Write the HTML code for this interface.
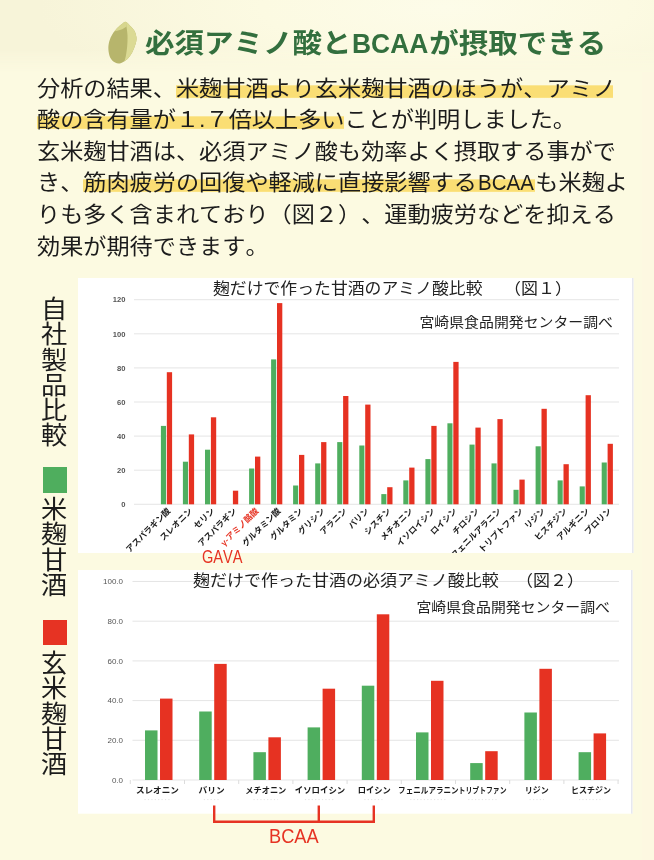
<!DOCTYPE html>
<html lang="ja">
<head>
<meta charset="utf-8">
<title>必須アミノ酸とBCAAが摂取できる</title>
<style>
html,body{margin:0;padding:0;}
body{text-spacing-trim:space-all;font-kerning:none;width:654px;height:860px;overflow:hidden;background:#fcfae1;font-family:"Liberation Sans", "Noto Sans CJK JP", sans-serif;color:#222;position:relative;}
.abs{position:absolute;white-space:nowrap;}
h1{position:absolute;margin:0;left:145px;top:21.6px;font-size:29.5px;line-height:44px;height:44px;transform:scaleY(0.93);transform-origin:50% 50%;font-weight:bold;color:#336f3e;white-space:nowrap;letter-spacing:0;}
p.l{position:absolute;margin:0;left:37px;font-size:23.17px;line-height:32px;height:32px;white-space:nowrap;color:#1c1c1c;transform:scaleY(0.93);transform-origin:50% 50%;}
.lat{display:inline-block;transform:scaleX(0.885);transform-origin:0 50%;margin-right:-6.2px;margin-left:1.5px;}
h1 .lat{transform:scaleX(0.895);margin-right:-7.6px;margin-left:0;}
.dot{margin:0;}
.hl.hl1{background-size:calc(100% - 3px) 100%;background-repeat:no-repeat;}
.hl{display:inline-block;height:32px;line-height:32px;vertical-align:top;background:linear-gradient(to bottom, rgba(250,222,116,0) 0, rgba(250,222,116,0) 35.5%, #fade74 39.5%, #fade74 78%, rgba(250,222,116,0) 82%);}
.chart{position:absolute;display:block;font-family:"Liberation Sans", "Noto Sans CJK JP", sans-serif;}
.v{position:absolute;writing-mode:vertical-rl;font-size:25.2px;line-height:30px;width:30px;left:36.9px;color:#1c1c1c;white-space:nowrap;transform:scaleX(1.04);transform-origin:50% 50%;}
.sq{position:absolute;left:42.5px;width:24px;height:25.5px;}
.red{color:#e63323;}
.topband{position:absolute;left:0;top:0;width:654px;height:72px;background:radial-gradient(ellipse 62% 150% at 68% 10%, #fdfce9 0%, #fcfae2 45%, #f7f4d9 100%);-webkit-mask-image:linear-gradient(to bottom,#000 0,#000 70%,rgba(0,0,0,0) 100%);mask-image:linear-gradient(to bottom,#000 0,#000 70%,rgba(0,0,0,0) 100%);}
.rstrip{position:absolute;left:642px;top:72px;width:12px;height:788px;background:#fdf8e1;}
</style>
</head>
<body>
<div class="topband"></div><div class="rstrip"></div>
<svg width="0" height="0" style="position:absolute"><defs><filter id="blur" x="-5%" y="-5%" width="110%" height="110%"><feGaussianBlur stdDeviation="0.42"/></filter><filter id="blur2" x="-10%" y="-10%" width="120%" height="120%"><feGaussianBlur stdDeviation="0.5"/></filter></defs></svg>
<svg class="abs" style="left:104px;top:18px" width="38" height="48" viewBox="104 18 38 48">
<defs><clipPath id="grain"><path d="M125.8 21.9 C127.2 22.2 128.9 24.5 130.3 26.0 C131.7 27.5 133.4 28.9 134.4 30.8 C135.4 32.8 136.3 35.4 136.5 37.7 C136.7 40.0 136.1 42.2 135.4 44.6 C134.7 47.0 133.6 49.8 132.3 52.2 C131.0 54.6 129.4 57.2 127.5 59.0 C125.5 60.8 122.7 62.6 120.6 63.2 C118.5 63.8 116.8 63.4 115.1 62.5 C113.4 61.6 111.4 59.9 110.3 57.7 C109.2 55.5 108.6 52.1 108.4 49.4 C108.2 46.6 108.6 43.7 109.3 41.2 C110.0 38.7 111.1 36.5 112.4 34.3 C113.7 32.1 115.6 29.8 117.2 28.1 C118.8 26.4 120.6 24.9 122.0 23.9 C123.4 22.9 124.4 21.5 125.8 21.9 Z"/></clipPath></defs>
<g filter="url(#blur2)">
<path d="M125.8 21.9 C127.2 22.2 128.9 24.5 130.3 26.0 C131.7 27.5 133.4 28.9 134.4 30.8 C135.4 32.8 136.3 35.4 136.5 37.7 C136.7 40.0 136.1 42.2 135.4 44.6 C134.7 47.0 133.6 49.8 132.3 52.2 C131.0 54.6 129.4 57.2 127.5 59.0 C125.5 60.8 122.7 62.6 120.6 63.2 C118.5 63.8 116.8 63.4 115.1 62.5 C113.4 61.6 111.4 59.9 110.3 57.7 C109.2 55.5 108.6 52.1 108.4 49.4 C108.2 46.6 108.6 43.7 109.3 41.2 C110.0 38.7 111.1 36.5 112.4 34.3 C113.7 32.1 115.6 29.8 117.2 28.1 C118.8 26.4 120.6 24.9 122.0 23.9 C123.4 22.9 124.4 21.5 125.8 21.9 Z" fill="#b7b56c"/>
<g clip-path="url(#grain)">
<path d="M126.5 26.7 C126.7 28.2 127.4 32.4 127.5 35.6 C127.6 38.8 127.5 42.5 127.2 46.0 C126.9 49.5 126.3 53.7 125.8 56.3 C125.3 58.9 124.4 60.9 124.1 61.8 L124 66 L141 66 L141 18 L126.5 18 Z" fill="#dbda94"/>
<path d="M114.8 31.2 C115.8 31.0 118.6 30.6 120.6 29.8 C122.5 29.1 125.5 27.2 126.5 26.7 L128 18 L108 18 L108 31.2 Z" fill="#d7d68e"/>
</g>
</g>
</svg>
<h1>必須アミノ酸と<span class="lat">BCAA</span>が摂取できる</h1>
<p class="l" style="top:72.6px">分析の結果、<span class="hl hl1">米麹甘酒より玄米麹甘酒のほうが、アミノ</span></p>
<p class="l" style="top:103.6px"><span class="hl">酸の含有量が１<span class="dot">.</span>７倍以上多い</span>ことが判明しました。</p>
<p class="l" style="top:136.1px">玄米麹甘酒は、必須アミノ酸も効率よく摂取する事がで</p>
<p class="l" style="top:166.9px">き、<span class="hl">筋肉疲労の回復や軽減に直接影響する<span class="lat">BCAA</span></span>も米麹よ</p>
<p class="l" style="top:199.2px">りも多く含まれており（図２）、運動疲労などを抑える</p>
<p class="l" style="top:231.1px">効果が期待できます。</p>
<div class="v" style="top:295.6px">自社製品比較</div>
<div class="sq" style="top:467px;background:#4fae5e"></div>
<div class="v" style="top:496.3px">米麹甘酒</div>
<div class="sq" style="top:620px;background:#e63323;height:24.5px"></div>
<div class="v" style="top:649.5px">玄米麹甘酒</div>
<svg class="chart" style="left:78px;top:278px" width="555.5" height="275" viewBox="78 278 555.5 275">
<rect x="78" y="278" width="555.5" height="275" fill="#fff"/>
<rect x="632.0" y="278" width="1.5" height="275" fill="#e6e8f0"/>
<g filter="url(#blur)">
<line x1="134" x2="619" y1="504.3" y2="504.3" stroke="#dedede" stroke-width="0.8"/>
<text x="125.5" y="507.0" font-size="7.6" text-anchor="end" fill="#555" font-weight="bold">0</text>
<line x1="134" x2="619" y1="470.2" y2="470.2" stroke="#dedede" stroke-width="0.8"/>
<text x="125.5" y="472.9" font-size="7.6" text-anchor="end" fill="#555" font-weight="bold">20</text>
<line x1="134" x2="619" y1="436.1" y2="436.1" stroke="#dedede" stroke-width="0.8"/>
<text x="125.5" y="438.8" font-size="7.6" text-anchor="end" fill="#555" font-weight="bold">40</text>
<line x1="134" x2="619" y1="402.0" y2="402.0" stroke="#dedede" stroke-width="0.8"/>
<text x="125.5" y="404.7" font-size="7.6" text-anchor="end" fill="#555" font-weight="bold">60</text>
<line x1="134" x2="619" y1="367.9" y2="367.9" stroke="#dedede" stroke-width="0.8"/>
<text x="125.5" y="370.6" font-size="7.6" text-anchor="end" fill="#555" font-weight="bold">80</text>
<line x1="134" x2="619" y1="333.8" y2="333.8" stroke="#dedede" stroke-width="0.8"/>
<text x="125.5" y="336.5" font-size="7.6" text-anchor="end" fill="#555" font-weight="bold">100</text>
<line x1="134" x2="619" y1="299.7" y2="299.7" stroke="#dedede" stroke-width="0.8"/>
<text x="125.5" y="302.4" font-size="7.6" text-anchor="end" fill="#555" font-weight="bold">120</text>
<rect x="160.9" y="425.9" width="5.1" height="78.4" fill="#4fae5e"/>
<rect x="166.8" y="372.2" width="5.3" height="132.1" fill="#e63323"/>
<text transform="translate(171.0,511.5) rotate(-45)" font-size="8.4" font-weight="bold" text-anchor="end" fill="#1a1a1a">アスパラギン酸</text>
<rect x="182.9" y="461.7" width="5.1" height="42.6" fill="#4fae5e"/>
<rect x="188.8" y="434.4" width="5.3" height="69.9" fill="#e63323"/>
<text transform="translate(193.0,511.5) rotate(-45)" font-size="8.4" font-weight="bold" text-anchor="end" fill="#1a1a1a">スレオニン</text>
<rect x="205.0" y="449.7" width="5.1" height="54.6" fill="#4fae5e"/>
<rect x="210.9" y="417.3" width="5.3" height="87.0" fill="#e63323"/>
<text transform="translate(215.1,511.5) rotate(-45)" font-size="8.4" font-weight="bold" text-anchor="end" fill="#1a1a1a">セリン</text>
<rect x="232.9" y="490.7" width="5.3" height="13.6" fill="#e63323"/>
<text transform="translate(237.1,511.5) rotate(-45)" font-size="8.4" font-weight="bold" text-anchor="end" fill="#1a1a1a">アスパラギン</text>
<rect x="249.1" y="468.5" width="5.1" height="35.8" fill="#4fae5e"/>
<rect x="255.0" y="456.6" width="5.3" height="47.7" fill="#e63323"/>
<text transform="translate(259.2,511.5) rotate(-45)" font-size="8.4" font-weight="bold" text-anchor="end" fill="#e63323">γ-アミノ酪酸</text>
<rect x="271.1" y="359.4" width="5.1" height="144.9" fill="#4fae5e"/>
<rect x="277.0" y="303.1" width="5.3" height="201.2" fill="#e63323"/>
<text transform="translate(281.2,511.5) rotate(-45)" font-size="8.4" font-weight="bold" text-anchor="end" fill="#1a1a1a">グルタミン酸</text>
<rect x="293.1" y="485.5" width="5.1" height="18.8" fill="#4fae5e"/>
<rect x="299.0" y="454.9" width="5.3" height="49.4" fill="#e63323"/>
<text transform="translate(303.2,511.5) rotate(-45)" font-size="8.4" font-weight="bold" text-anchor="end" fill="#1a1a1a">グルタミン</text>
<rect x="315.2" y="463.4" width="5.1" height="40.9" fill="#4fae5e"/>
<rect x="321.1" y="442.1" width="5.3" height="62.2" fill="#e63323"/>
<text transform="translate(325.3,511.5) rotate(-45)" font-size="8.4" font-weight="bold" text-anchor="end" fill="#1a1a1a">グリシン</text>
<rect x="337.2" y="442.1" width="5.1" height="62.2" fill="#4fae5e"/>
<rect x="343.1" y="396.0" width="5.3" height="108.3" fill="#e63323"/>
<text transform="translate(347.3,511.5) rotate(-45)" font-size="8.4" font-weight="bold" text-anchor="end" fill="#1a1a1a">アラニン</text>
<rect x="359.3" y="445.5" width="5.1" height="58.8" fill="#4fae5e"/>
<rect x="365.2" y="404.6" width="5.3" height="99.7" fill="#e63323"/>
<text transform="translate(369.4,511.5) rotate(-45)" font-size="8.4" font-weight="bold" text-anchor="end" fill="#1a1a1a">バリン</text>
<rect x="381.3" y="494.1" width="5.1" height="10.2" fill="#4fae5e"/>
<rect x="387.2" y="487.2" width="5.3" height="17.1" fill="#e63323"/>
<text transform="translate(391.4,511.5) rotate(-45)" font-size="8.4" font-weight="bold" text-anchor="end" fill="#1a1a1a">シスチン</text>
<rect x="403.3" y="480.4" width="5.1" height="23.9" fill="#4fae5e"/>
<rect x="409.2" y="467.6" width="5.3" height="36.7" fill="#e63323"/>
<text transform="translate(413.4,511.5) rotate(-45)" font-size="8.4" font-weight="bold" text-anchor="end" fill="#1a1a1a">メチオニン</text>
<rect x="425.4" y="459.1" width="5.1" height="45.2" fill="#4fae5e"/>
<rect x="431.3" y="425.9" width="5.3" height="78.4" fill="#e63323"/>
<text transform="translate(435.5,511.5) rotate(-45)" font-size="8.4" font-weight="bold" text-anchor="end" fill="#1a1a1a">イソロイシン</text>
<rect x="447.4" y="423.3" width="5.1" height="81.0" fill="#4fae5e"/>
<rect x="453.3" y="361.9" width="5.3" height="142.4" fill="#e63323"/>
<text transform="translate(457.5,511.5) rotate(-45)" font-size="8.4" font-weight="bold" text-anchor="end" fill="#1a1a1a">ロイシン</text>
<rect x="469.5" y="444.6" width="5.1" height="59.7" fill="#4fae5e"/>
<rect x="475.4" y="427.6" width="5.3" height="76.7" fill="#e63323"/>
<text transform="translate(479.6,511.5) rotate(-45)" font-size="8.4" font-weight="bold" text-anchor="end" fill="#1a1a1a">チロシン</text>
<rect x="491.5" y="463.4" width="5.1" height="40.9" fill="#4fae5e"/>
<rect x="497.4" y="419.1" width="5.3" height="85.2" fill="#e63323"/>
<text transform="translate(501.6,511.5) rotate(-45)" font-size="8.4" font-weight="bold" text-anchor="end" fill="#1a1a1a">フェニルアラニン</text>
<rect x="513.5" y="489.8" width="5.1" height="14.5" fill="#4fae5e"/>
<rect x="519.4" y="479.6" width="5.3" height="24.7" fill="#e63323"/>
<text transform="translate(523.6,511.5) rotate(-45)" font-size="8.4" font-weight="bold" text-anchor="end" fill="#1a1a1a">トリプトファン</text>
<rect x="535.6" y="446.3" width="5.1" height="58.0" fill="#4fae5e"/>
<rect x="541.5" y="408.8" width="5.3" height="95.5" fill="#e63323"/>
<text transform="translate(545.7,511.5) rotate(-45)" font-size="8.4" font-weight="bold" text-anchor="end" fill="#1a1a1a">リジン</text>
<rect x="557.6" y="480.4" width="5.1" height="23.9" fill="#4fae5e"/>
<rect x="563.5" y="464.2" width="5.3" height="40.1" fill="#e63323"/>
<text transform="translate(567.7,511.5) rotate(-45)" font-size="8.4" font-weight="bold" text-anchor="end" fill="#1a1a1a">ヒスチジン</text>
<rect x="579.7" y="486.4" width="5.1" height="17.9" fill="#4fae5e"/>
<rect x="585.6" y="395.2" width="5.3" height="109.1" fill="#e63323"/>
<text transform="translate(589.8,511.5) rotate(-45)" font-size="8.4" font-weight="bold" text-anchor="end" fill="#1a1a1a">アルギニン</text>
<rect x="601.7" y="462.5" width="5.1" height="41.8" fill="#4fae5e"/>
<rect x="607.6" y="443.8" width="5.3" height="60.5" fill="#e63323"/>
<text transform="translate(611.8,511.5) rotate(-45)" font-size="8.4" font-weight="bold" text-anchor="end" fill="#1a1a1a">プロリン</text>
</g>
<g transform="translate(0,288.5) scale(1,0.93) translate(0,-288.5)">
<text x="213" y="294.7" font-size="16.85" fill="#222">麹だけで作った甘酒のアミノ酸比較</text>
<text x="504" y="294.7" font-size="17" fill="#222">（図１）</text>
</g>
<g transform="translate(0,321.5) scale(1,0.93) translate(0,-321.5)"><text x="613" y="327" font-size="14.9" text-anchor="end" fill="#222">宮崎県食品開発センター調べ</text></g>
</svg>
<div class="abs red" style="left:201.5px;top:543.5px;font-size:17.6px;line-height:26px;transform:scaleX(0.83);transform-origin:0 50%;">GAVA</div>
<svg class="chart" style="left:78px;top:570px" width="554.5" height="243.7" viewBox="78 570 554.5 243.7">
<rect x="78" y="570" width="554.5" height="243.7" fill="#fff"/>
<rect x="631.0" y="570" width="1.5" height="243.7" fill="#e6e8f0"/>
<g filter="url(#blur)">
<line x1="132.5" x2="619" y1="780.0" y2="780.0" stroke="#dedede" stroke-width="0.8"/>
<text x="123" y="782.8" font-size="8" text-anchor="end" fill="#555">0.0</text>
<line x1="132.5" x2="619" y1="740.3" y2="740.3" stroke="#dedede" stroke-width="0.8"/>
<text x="123" y="743.1" font-size="8" text-anchor="end" fill="#555">20.0</text>
<line x1="132.5" x2="619" y1="700.6" y2="700.6" stroke="#dedede" stroke-width="0.8"/>
<text x="123" y="703.4" font-size="8" text-anchor="end" fill="#555">40.0</text>
<line x1="132.5" x2="619" y1="660.9" y2="660.9" stroke="#dedede" stroke-width="0.8"/>
<text x="123" y="663.7" font-size="8" text-anchor="end" fill="#555">60.0</text>
<line x1="132.5" x2="619" y1="621.2" y2="621.2" stroke="#dedede" stroke-width="0.8"/>
<text x="123" y="624.0" font-size="8" text-anchor="end" fill="#555">80.0</text>
<line x1="132.5" x2="619" y1="581.5" y2="581.5" stroke="#dedede" stroke-width="0.8"/>
<text x="123" y="584.3" font-size="8" text-anchor="end" fill="#555">100.0</text>
<line x1="130.3" x2="130.3" y1="780" y2="784" stroke="#dcdcdc" stroke-width="1"/>
<line x1="184.5" x2="184.5" y1="780" y2="784" stroke="#dcdcdc" stroke-width="1"/>
<line x1="238.7" x2="238.7" y1="780" y2="784" stroke="#dcdcdc" stroke-width="1"/>
<line x1="292.9" x2="292.9" y1="780" y2="784" stroke="#dcdcdc" stroke-width="1"/>
<line x1="347.1" x2="347.1" y1="780" y2="784" stroke="#dcdcdc" stroke-width="1"/>
<line x1="401.3" x2="401.3" y1="780" y2="784" stroke="#dcdcdc" stroke-width="1"/>
<line x1="455.5" x2="455.5" y1="780" y2="784" stroke="#dcdcdc" stroke-width="1"/>
<line x1="509.7" x2="509.7" y1="780" y2="784" stroke="#dcdcdc" stroke-width="1"/>
<line x1="563.9" x2="563.9" y1="780" y2="784" stroke="#dcdcdc" stroke-width="1"/>
<line x1="618.1" x2="618.1" y1="780" y2="784" stroke="#dcdcdc" stroke-width="1"/>
<rect x="145.0" y="730.4" width="12.5" height="49.6" fill="#4fae5e"/>
<rect x="160.0" y="698.6" width="12.5" height="81.4" fill="#e63323"/>
<text x="157.4" y="792.6" font-size="8.5" font-weight="bold" text-anchor="middle" textLength="43" lengthAdjust="spacingAndGlyphs" fill="#1a1a1a">スレオニン</text>
<line x1="144.5" x2="170.3" y1="799.6" y2="799.6" stroke="#e4e4e4" stroke-width="1" stroke-dasharray="1.2 2.2"/>
<rect x="199.2" y="711.5" width="12.5" height="68.5" fill="#4fae5e"/>
<rect x="214.2" y="663.9" width="12.5" height="116.1" fill="#e63323"/>
<text x="211.6" y="792.6" font-size="8.5" font-weight="bold" text-anchor="middle" textLength="26" lengthAdjust="spacingAndGlyphs" fill="#1a1a1a">バリン</text>
<line x1="203.8" x2="219.4" y1="799.6" y2="799.6" stroke="#e4e4e4" stroke-width="1" stroke-dasharray="1.2 2.2"/>
<rect x="253.4" y="752.2" width="12.5" height="27.8" fill="#4fae5e"/>
<rect x="268.4" y="737.3" width="12.5" height="42.7" fill="#e63323"/>
<text x="265.8" y="792.6" font-size="8.5" font-weight="bold" text-anchor="middle" textLength="41" lengthAdjust="spacingAndGlyphs" fill="#1a1a1a">メチオニン</text>
<line x1="253.5" x2="278.1" y1="799.6" y2="799.6" stroke="#e4e4e4" stroke-width="1" stroke-dasharray="1.2 2.2"/>
<rect x="307.6" y="727.4" width="12.5" height="52.6" fill="#4fae5e"/>
<rect x="322.6" y="688.7" width="12.5" height="91.3" fill="#e63323"/>
<text x="320.0" y="792.6" font-size="8.5" font-weight="bold" text-anchor="middle" textLength="50.5" lengthAdjust="spacingAndGlyphs" fill="#1a1a1a">イソロイシン</text>
<line x1="304.9" x2="335.1" y1="799.6" y2="799.6" stroke="#e4e4e4" stroke-width="1" stroke-dasharray="1.2 2.2"/>
<rect x="361.8" y="685.7" width="12.5" height="94.3" fill="#4fae5e"/>
<rect x="376.8" y="614.3" width="12.5" height="165.7" fill="#e63323"/>
<text x="374.2" y="792.6" font-size="8.5" font-weight="bold" text-anchor="middle" textLength="33" lengthAdjust="spacingAndGlyphs" fill="#1a1a1a">ロイシン</text>
<line x1="364.3" x2="384.1" y1="799.6" y2="799.6" stroke="#e4e4e4" stroke-width="1" stroke-dasharray="1.2 2.2"/>
<rect x="416.0" y="732.4" width="12.5" height="47.6" fill="#4fae5e"/>
<rect x="431.0" y="680.8" width="12.5" height="99.2" fill="#e63323"/>
<text x="428.4" y="792.6" font-size="8.5" font-weight="bold" text-anchor="middle" textLength="60.6" lengthAdjust="spacingAndGlyphs" fill="#1a1a1a">フェニルアラニン</text>
<line x1="410.2" x2="446.6" y1="799.6" y2="799.6" stroke="#e4e4e4" stroke-width="1" stroke-dasharray="1.2 2.2"/>
<rect x="470.2" y="763.1" width="12.5" height="16.9" fill="#4fae5e"/>
<rect x="485.2" y="751.2" width="12.5" height="28.8" fill="#e63323"/>
<text x="482.6" y="792.6" font-size="8.5" font-weight="bold" text-anchor="middle" textLength="48" lengthAdjust="spacingAndGlyphs" fill="#1a1a1a">トリプトファン</text>
<line x1="468.2" x2="497.0" y1="799.6" y2="799.6" stroke="#e4e4e4" stroke-width="1" stroke-dasharray="1.2 2.2"/>
<rect x="524.4" y="712.5" width="12.5" height="67.5" fill="#4fae5e"/>
<rect x="539.4" y="668.8" width="12.5" height="111.2" fill="#e63323"/>
<text x="536.8" y="792.6" font-size="8.5" font-weight="bold" text-anchor="middle" textLength="24" lengthAdjust="spacingAndGlyphs" fill="#1a1a1a">リジン</text>
<line x1="529.6" x2="544.0" y1="799.6" y2="799.6" stroke="#e4e4e4" stroke-width="1" stroke-dasharray="1.2 2.2"/>
<rect x="578.6" y="752.2" width="12.5" height="27.8" fill="#4fae5e"/>
<rect x="593.6" y="733.4" width="12.5" height="46.6" fill="#e63323"/>
<text x="591.0" y="792.6" font-size="8.5" font-weight="bold" text-anchor="middle" textLength="40" lengthAdjust="spacingAndGlyphs" fill="#1a1a1a">ヒスチジン</text>
<line x1="579.0" x2="603.0" y1="799.6" y2="799.6" stroke="#e4e4e4" stroke-width="1" stroke-dasharray="1.2 2.2"/>
</g>
<g transform="translate(0,580) scale(1,0.93) translate(0,-580)">
<text x="193" y="586.2" font-size="17" fill="#222">麹だけで作った甘酒の必須アミノ酸比較</text>
<text x="516" y="586.2" font-size="17" fill="#222">（図２）</text>
</g>
<g transform="translate(0,607) scale(1,0.93) translate(0,-607)"><text x="610" y="612.5" font-size="14.9" text-anchor="end" fill="#222">宮崎県食品開発センター調べ</text></g>
</svg>
<svg class="abs" style="left:200px;top:800px" width="200" height="30" viewBox="200 800 200 30">
<path d="M214.2 805.5 V821.8 H373.8 V805.5 M318.8 805.5 V821.8" fill="none" stroke="#e63323" stroke-width="2.4"/>
</svg>
<div class="abs red" style="left:268.5px;top:822.3px;font-size:20.5px;line-height:28px;transform:scaleX(0.89);transform-origin:0 50%;">BCAA</div>
</body>
</html>
